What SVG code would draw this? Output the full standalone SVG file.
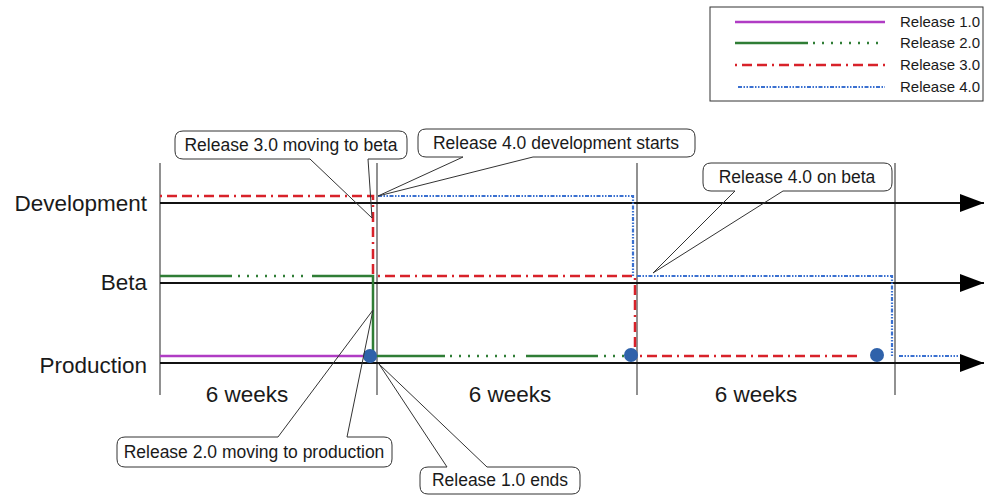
<svg xmlns="http://www.w3.org/2000/svg" width="985" height="496" viewBox="0 0 985 496">
  <defs>
    <marker id="arrow" markerWidth="24" markerHeight="18" refX="24" refY="9" orient="auto" markerUnits="userSpaceOnUse" viewBox="0 0 24 18">
      <path d="M0,0 L24,9 L0,18 Z" fill="#000"/>
    </marker>
    <style>
      text { font-family: "Liberation Sans", Arial, sans-serif; fill: #1a1a1a; }
      .axis { stroke: #111; stroke-width: 2; fill: none; }
      .tick { stroke: #555; stroke-width: 1.3; fill: none; }
      .r1 { stroke: #b03cc4; stroke-width: 2.5; fill: none; }
      .r2 { stroke: #2f7d35; stroke-width: 2.5; fill: none; }
      .r2dot { stroke: #2f7d35; stroke-width: 2.5; fill: none; stroke-dasharray: 2 7; }
      .r3 { stroke: #d8222a; stroke-width: 2.5; fill: none; stroke-dasharray: 2 5 10 5 10 5; }
      .r4 { stroke: #3a70d0; stroke-width: 2.2; fill: none; stroke-dasharray: 4 1.5 1.5 1.5 1.5 1.5; }
      .dot { fill: #2f62aa; }
      .callout { fill: none; stroke: #333; stroke-width: 1; }
      .clabel { font-size: 17.5px; text-anchor: middle; }
      .rowlabel { font-size: 22.5px; text-anchor: end; }
      .span { font-size: 22.5px; text-anchor: middle; }
      .legend { font-size: 15px; }
    </style>
  </defs>

  <!-- legend -->
  <g id="legend">
    <rect x="710" y="7" width="273" height="94" fill="#fff" stroke="#333" stroke-width="1"/>
    <line class="r1" x1="735" y1="22" x2="885" y2="22"/>
    <line class="r2" x1="735" y1="43" x2="808" y2="43"/>
    <line class="r2dot" x1="813" y1="43" x2="885" y2="43"/>
    <line class="r3" x1="735" y1="65" x2="885" y2="65"/>
    <line class="r4" x1="738" y1="87" x2="885" y2="87"/>
    <text class="legend" x="900" y="27">Release 1.0</text>
    <text class="legend" x="900" y="48">Release 2.0</text>
    <text class="legend" x="900" y="70">Release 3.0</text>
    <text class="legend" x="900" y="92">Release 4.0</text>
  </g>

  <!-- six-week period boundaries -->
  <g id="periods">
    <line class="tick" x1="160" y1="163" x2="160" y2="395"/>
    <line class="tick" x1="377" y1="163" x2="377" y2="395"/>
    <line class="tick" x1="637" y1="163" x2="637" y2="395"/>
    <line class="tick" x1="895" y1="163" x2="895" y2="395"/>
    <text class="span" x="247" y="402">6 weeks</text>
    <text class="span" x="510" y="402">6 weeks</text>
    <text class="span" x="756" y="402">6 weeks</text>
  </g>

  <!-- environment rows -->
  <g id="development">
    <line class="axis" x1="160" y1="203" x2="984" y2="203" marker-end="url(#arrow)"/>
    <text class="rowlabel" x="147" y="211">Development</text>
  </g>
  <g id="beta">
    <line class="axis" x1="160" y1="283" x2="984" y2="283" marker-end="url(#arrow)"/>
    <text class="rowlabel" x="147" y="290">Beta</text>
  </g>
  <g id="production">
    <line class="axis" x1="160" y1="363" x2="984" y2="363" marker-end="url(#arrow)"/>
    <text class="rowlabel" x="147" y="373">Production</text>
  </g>

  <!-- release tracks -->
  <g id="connectors">
    <!-- release 1.0 -->
    <line class="r1" x1="160" y1="356" x2="366" y2="356"/>
    <!-- release 2.0 -->
    <line class="r2" x1="160" y1="276" x2="232" y2="276"/>
    <line class="r2dot" x1="238" y1="276" x2="308" y2="276"/>
    <polyline class="r2" points="312,276 373,276 373,356 377,356 445,356"/>
    <line class="r2dot" x1="450" y1="356" x2="522" y2="356"/>
    <line class="r2" x1="526" y1="356" x2="598" y2="356"/>
    <line class="r2dot" x1="604" y1="356" x2="626" y2="356"/>
    <!-- release 3.0 -->
    <polyline class="r3" points="160,196 373,196 373,276"/>
    <polyline class="r3" points="378,276 635,276 635,356"/>
    <line class="r3" x1="640" y1="356" x2="862" y2="356"/>
    <!-- release 4.0 -->
    <polyline class="r4" points="378,196 633,196 633,276"/>
    <polyline class="r4" points="637,276 892,276 892,356"/>
    <line class="r4" x1="899" y1="356" x2="958" y2="356"/>
    <!-- production releases -->
    <circle class="dot" cx="370" cy="356" r="7"/>
    <circle class="dot" cx="631" cy="355" r="7"/>
    <circle class="dot" cx="877" cy="355" r="7"/>
  </g>

  <!-- callouts -->
  <g id="callout-r3-beta">
    <path class="callout" d="M183,131 H399 Q407,131 407,139 V151 Q407,159 399,159 H368 L372,218 L310,159 H183 Q175,159 175,151 V139 Q175,131 183,131 Z"/>
    <text class="clabel" x="291" y="151">Release 3.0 moving to beta</text>
  </g>
  <g id="callout-r4-dev">
    <path class="callout" d="M426,129 H687 Q695,129 695,137 V149 Q695,157 687,157 H533 L378,196 L463,157 H426 Q418,157 418,149 V137 Q418,129 426,129 Z"/>
    <text class="clabel" x="556" y="149">Release 4.0 development starts</text>
  </g>
  <g id="callout-r4-beta">
    <path class="callout" d="M711,163 H884 Q892,163 892,171 V183 Q892,191 884,191 H783 L653,273 L735,191 H711 Q703,191 703,183 V171 Q703,163 711,163 Z"/>
    <text class="clabel" x="797" y="183">Release 4.0 on beta</text>
  </g>
  <g id="callout-r2-prod">
    <path class="callout" d="M125,437 H278 L373,310 L347,437 H384 Q392,437 392,445 V459 Q392,467 384,467 H125 Q117,467 117,459 V445 Q117,437 125,437 Z"/>
    <text class="clabel" x="254" y="458">Release 2.0 moving to production</text>
  </g>
  <g id="callout-r1-end">
    <path class="callout" d="M428,467 H447 L379,364 L487,467 H572 Q580,467 580,475 V486 Q580,494 572,494 H428 Q420,494 420,486 V475 Q420,467 428,467 Z"/>
    <text class="clabel" x="500" y="486">Release 1.0 ends</text>
  </g>
</svg>
